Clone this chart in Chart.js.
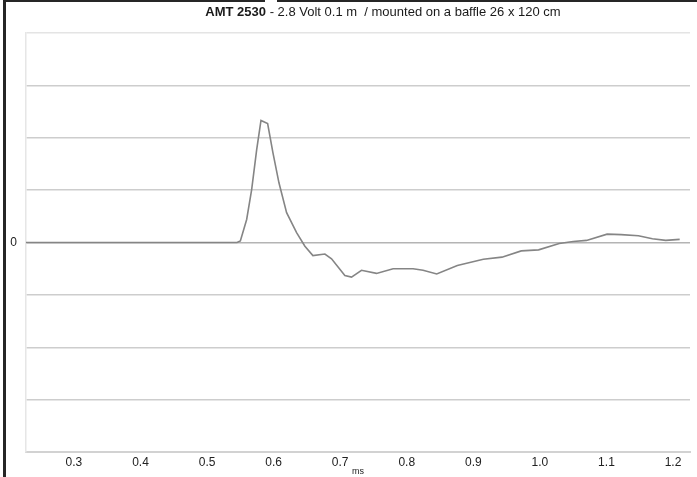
<!DOCTYPE html>
<html>
<head>
<meta charset="utf-8">
<script src="https://cdn.jsdelivr.net/npm/chart.js@4.4.1/dist/chart.umd.min.js"></script>
<style>
  html, body { margin: 0; padding: 0; background: #fff; }
  #wrap { position: relative; width: 697px; height: 477px; overflow: hidden; }
  #impulse { position: absolute; left: 0; top: 0; }
  .frame-left { position: absolute; left: 3px; top: 0; width: 3px; height: 477px; background: #262626; }
  .frame-top { position: absolute; left: 3px; top: 0; width: 694px; height: 2px; background: #262626; }
  .frame-gap { position: absolute; left: 265px; top: 0; width: 12px; height: 2px; background: #fff; }
</style>
</head>
<body>
<div id="wrap">
  <canvas id="impulse" width="697" height="477"></canvas>
  <div class="frame-left"></div>
  <div class="frame-top"></div>
  <div class="frame-gap"></div>
</div>
<script>
// impulse response
const timeMs = [
  0.228, 0.545, 0.550, 0.5595, 0.567, 0.5745, 0.581, 0.591, 0.599, 0.608,
  0.6195, 0.6345, 0.647, 0.659, 0.677, 0.687, 0.707, 0.717, 0.732, 0.7545,
  0.7795, 0.8095, 0.8245, 0.845, 0.876, 0.915, 0.943, 0.972, 0.998, 1.029,
  1.050, 1.070, 1.101, 1.122, 1.148, 1.169, 1.189, 1.210
];
const amplitude = [
  0, 0, 0.03, 0.44, 1.01, 1.77, 2.33, 2.27, 1.71, 1.14,
  0.57, 0.19, -0.07, -0.25, -0.22, -0.31, -0.63, -0.66, -0.53, -0.59,
  -0.50, -0.50, -0.53, -0.60, -0.44, -0.32, -0.28, -0.16, -0.14, -0.02,
  0.02, 0.04, 0.16, 0.15, 0.13, 0.07, 0.04, 0.06
];
const xTickLabels = ['0.3', '0.4', '0.5', '0.6', '0.7', '0.8', '0.9', '1.0', '1.1', '1.2'];
const yTickLabels = ['0'];

const titleBold = 'AMT 2530';
const titleRest = ' - 2.8 Volt 0.1 m  / mounted on a baffle 26 x 120 cm';

const FONT = '"Liberation Sans", Arial, sans-serif';

// draws the mixed bold / regular heading above the plot
const headingPlugin = {
  id: 'heading',
  afterDraw(chart) {
    const ctx = chart.ctx;
    ctx.save();
    ctx.fillStyle = '#1a1a1a';
    ctx.textBaseline = 'middle';
    ctx.font = 'bold 13px ' + FONT;
    const wBold = ctx.measureText(titleBold).width;
    ctx.font = '13px ' + FONT;
    const wRest = ctx.measureText(titleRest).width;
    let x = 383 - (wBold + wRest) / 2;
    const y = 12;
    ctx.font = 'bold 13px ' + FONT;
    ctx.fillText(titleBold, x, y);
    ctx.font = '13px ' + FONT;
    ctx.fillText(titleRest, x + wBold, y);
    ctx.restore();
  }
};

const chart = new Chart(document.getElementById('impulse'), {
  type: 'line',
  data: {
    datasets: [{
      data: timeMs.map((t, i) => ({ x: t, y: amplitude[i] })),
      borderColor: '#858585',
      borderWidth: 1.6,
      pointRadius: 0,
      tension: 0,
      fill: false
    }]
  },
  options: {
    responsive: false,
    animation: false,
    layout: { padding: { top: 33, right: 7, left: 0, bottom: 0 } },
    plugins: {
      legend: { display: false },
      tooltip: { enabled: false }
    },
    scales: {
      x: {
        type: 'linear',
        min: 0.228,
        max: 1.2255,
        afterFit: (scale) => { scale.height = 25; },
        grid: { display: false, drawTicks: false },
        border: { display: true, color: '#d2d2d2', width: 2 },
        ticks: {
          stepSize: 0.1,
          includeBounds: false,
          autoSkip: false,
          maxRotation: 0,
          padding: 3,
          color: '#222',
          font: { family: FONT, size: 12 },
          callback: (v) => {
            const s = v.toFixed(1);
            return xTickLabels.includes(s) ? s : '';
          }
        },
        title: {
          display: true,
          text: 'ms',
          color: '#222',
          padding: 0,
          font: { family: FONT, size: 9 }
        }
      },
      y: {
        min: -4,
        max: 4,
        afterFit: (scale) => { scale.width = 26; },
        grid: {
          drawTicks: false,
          lineWidth: 1.5,
          color: (c) => {
            const v = c.tick && c.tick.value;
            if (v === 4) return '#e4e4e4';
            if (v === 0) return '#b4b4b4';
            return '#cdcdcd';
          }
        },
        border: { display: true, color: '#e6e6e6', width: 1.5 },
        ticks: {
          stepSize: 1,
          padding: 9,
          color: '#222',
          font: { family: FONT, size: 12 },
          callback: (v) => yTickLabels.includes(String(v)) ? String(v) : ''
        }
      }
    }
  },
  plugins: [headingPlugin]
});
</script>
</body>
</html>
